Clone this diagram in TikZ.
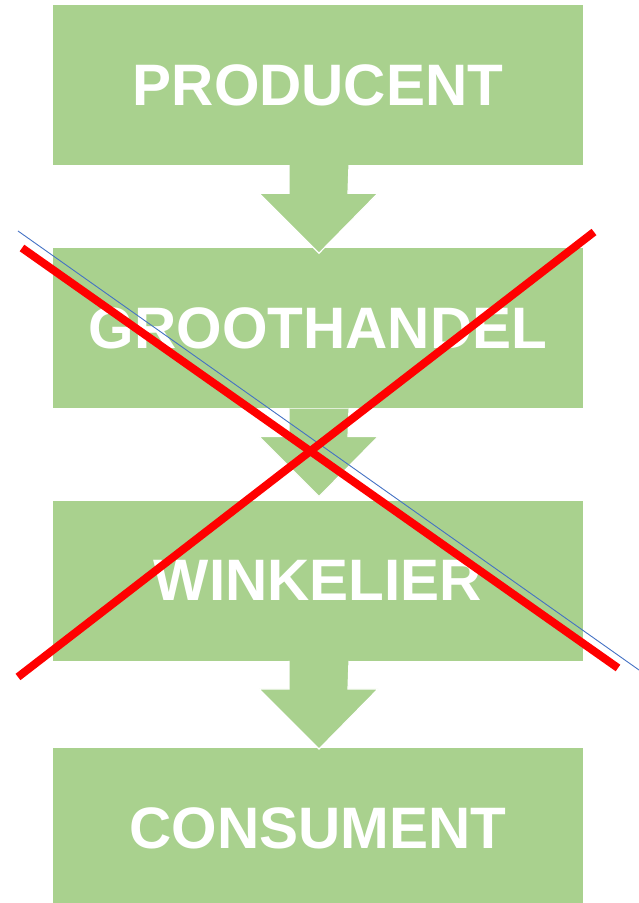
\documentclass[tikz,border=0pt]{standalone}
\usepackage{fontspec}
\setmainfont{Liberation Sans}
\usetikzlibrary{
  positioning,
  calc
}
\definecolor{chaingreen}{RGB}{169,209,142}
\definecolor{crossred}{RGB}{255,0,0}
\definecolor{guideblue}{RGB}{68,114,196}
\tikzset{
  chainbox/.style={
    fill=chaingreen,
    minimum width=530pt,
    minimum height=160pt,
    inner sep=0pt,
    text=white,
    font=\fontsize{58.5}{60}\selectfont\bfseries
  },
  chainarrow/.style={fill=chaingreen,draw=white,line width=1.2pt,line join=miter},
  crossline/.style={draw=crossred,line width=8pt},
  guideline/.style={draw=guideblue,line width=0.9pt},
}

\begin{document}
\begin{tikzpicture}[x=1pt,y=1pt]
  \useasboundingbox (0,0) rectangle (639,903);
  % Chain boxes
  \node[chainbox] (producent) at (318,818) {PRODUCENT};
  \node[chainbox,below=83pt of producent] (groothandel) {GROOTHANDEL};
  \node[chainbox,below=92pt of groothandel] (winkelier) {WINKELIER};
  \node[chainbox,below=87pt of winkelier] (consument) {CONSUMENT};

  % Block arrows between boxes
  \foreach \from in {producent,groothandel,winkelier}
    \draw[chainarrow] ($(\from.south)+(-29,0)$) -- ++(0,-28) -- ++(-30,0)
      -- ($(\from.south)+(1,-88)$) -- ($(\from.south)+(60,-28)$)
      -- ++(-30,0) -- ($(\from.south)+(31,0)$);

  % Crossing out
  \coordinate (blueA) at (18,672);
  \coordinate (blueB) at (639,233);
  \coordinate (redA) at (22,655);
  \coordinate (redB) at (618,235);
  \coordinate (redC) at (594,671);
  \coordinate (redD) at (18,226);
  \draw[guideline] (blueA) -- (blueB);
  \draw[crossline] (redA) -- (redB);
  \draw[crossline] (redC) -- (redD);
\end{tikzpicture}
\end{document}
